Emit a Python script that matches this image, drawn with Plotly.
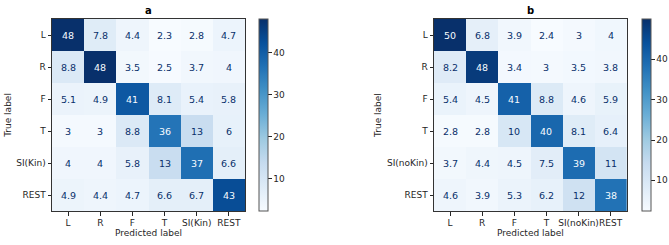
import plotly.graph_objects as go

labels_a = ["L", "R", "F", "T", "SI(Kin)", "REST"]
labels_b = ["L", "R", "F", "T", "SI(noKin)", "REST"]

cm_a = [
    [48, 7.8, 4.4, 2.3, 2.8, 4.7],
    [8.8, 48, 3.5, 2.5, 3.7, 4],
    [5.1, 4.9, 41, 8.1, 5.4, 5.8],
    [3, 3, 8.8, 36, 13, 6],
    [4, 4, 5.8, 13, 37, 6.6],
    [4.9, 4.4, 4.7, 6.6, 6.7, 43],
]
cm_b = [
    [50, 6.8, 3.9, 2.4, 3, 4],
    [8.2, 48, 3.4, 3, 3.5, 3.8],
    [5.4, 4.5, 41, 8.8, 4.6, 5.9],
    [2.8, 2.8, 10, 40, 8.1, 6.4],
    [3.7, 4.4, 4.5, 7.5, 39, 11],
    [4.6, 3.9, 5.3, 6.2, 12, 38],
]
cb_ticks = [10, 20, 30, 40]

blues = ["#f7fbff", "#deebf7", "#c6dbef", "#9ecae1", "#6baed6",
         "#4292c6", "#2171b5", "#08519c", "#08306b"]
colorscale = [[i / (len(blues) - 1), c] for i, c in enumerate(blues)]

W, H = 669, 245
FONT = "DejaVu Sans"
TXT = "#262626"

panels = [
    dict(cm=cm_a, labels=labels_a, title="a", xd=(52, 245), cbx=259.3, xa="x", ya="y"),
    dict(cm=cm_b, labels=labels_b, title="b", xd=(434, 626.7), cbx=641.7, xa="x2", ya="y2"),
]
top, bottom = 19, 211

fig = go.Figure()
annotations = []
for i, p in enumerate(panels):
    cm = p["cm"]
    flat = [v for r in cm for v in r]
    zmin, zmax = min(flat), max(flat)
    thresh = (zmin + zmax) / 2
    fig.add_trace(go.Heatmap(
        z=cm, x=p["labels"], y=p["labels"],
        colorscale=colorscale, zmin=zmin, zmax=zmax,
        xaxis=p["xa"], yaxis=p["ya"], hoverinfo="skip",
        colorbar=dict(
            x=p["cbx"] / W, xanchor="left", xref="paper",
            y=1 - (top + bottom) / 2 / H, yanchor="middle",
            len=bottom - top, lenmode="pixels",
            thickness=9.4, thicknessmode="pixels",
            outlinewidth=1, outlinecolor="#555555",
            tickvals=cb_ticks, ticks="outside", ticklen=3.5, tickcolor=TXT,
            tickfont=dict(size=9, color=TXT, family=FONT), xpad=0, ypad=0,
        ),
    ))
    for r, rl in enumerate(p["labels"]):
        for c, cl in enumerate(p["labels"]):
            v = cm[r][c]
            annotations.append(dict(
                x=cl, y=rl, xref=p["xa"], yref=p["ya"], text="{:.2g}".format(v),
                showarrow=False,
                font=dict(size=9.5, family=FONT,
                          color="#f7fbff" if v > thresh else "#08306b"),
            ))
    xc = (p["xd"][0] + p["xd"][1]) / 2 / W
    annotations.append(dict(
        x=xc, y=1 - 10.5 / H, xref="paper", yref="paper", text="<b>" + p["title"] + "</b>",
        showarrow=False, font=dict(size=10, family=FONT, color="black"),
        xanchor="center", yanchor="middle",
    ))

axis_common = dict(
    showline=True, mirror=True, linecolor="#333333", linewidth=1,
    ticks="outside", ticklen=3.5, tickcolor=TXT, tickwidth=1,
    tickfont=dict(size=9, color=TXT, family=FONT),
    showgrid=False, zeroline=False, fixedrange=True, automargin=False,
)
layout = dict(
    width=W, height=H, margin=dict(l=0, r=0, t=0, b=0, autoexpand=False),
    paper_bgcolor="white", plot_bgcolor="white",
    font=dict(family=FONT, size=9, color=TXT),
    annotations=annotations, showlegend=False,
)
for i, p in enumerate(panels):
    sfx = "" if i == 0 else "2"
    layout["xaxis" + sfx] = dict(
        axis_common, domain=[p["xd"][0] / W, p["xd"][1] / W],
        anchor="y" + sfx, tickangle=0,
        title=dict(text="Predicted label", font=dict(size=9, color=TXT, family=FONT), standoff=2),
    )
    layout["yaxis" + sfx] = dict(
        axis_common, domain=[1 - bottom / H, 1 - top / H],
        anchor="x" + sfx, autorange="reversed",
        title=dict(text="True label", font=dict(size=9, color=TXT, family=FONT), standoff=3),
    )

fig.update_layout(**layout)
fig.write_html("out.html")
